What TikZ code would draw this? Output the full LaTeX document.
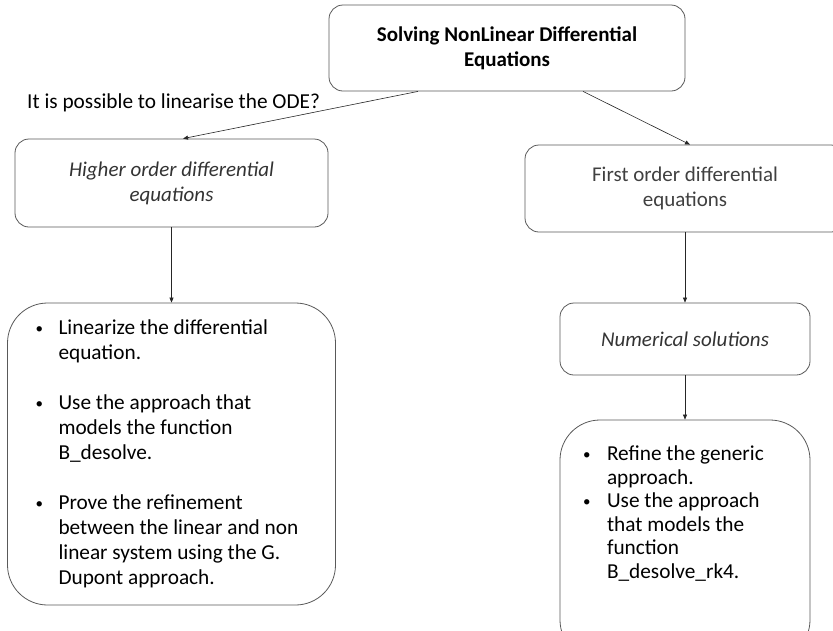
\documentclass[tikz,border=0pt]{standalone}
\usepackage{fontspec}
\setmainfont{Carlito}
\usetikzlibrary{arrows.meta,positioning}

% bullet line with hanging indent
\newcommand{\bul}[2]{\par\noindent\hangindent=#1\hangafter=1%
  \makebox[#1][l]{\raisebox{1pt}{\fontsize{15}{15}\selectfont\textbullet}}#2}

\begin{document}
\begin{tikzpicture}[x=1pt,y=-1pt]
  \tikzset{box/.style = {draw=black!65, line width=0.8pt, rounded corners=14pt, inner sep=0pt, align=center}}
  \tikzset{bigbox/.style = {box, rounded corners=40pt}}
  \tikzset{link/.style = {-{Triangle[length=5pt,width=4pt]}, draw=black!85, line width=0.6pt}}
  \useasboundingbox (0,0) rectangle (833,630);

  % boxes
  \node[box, minimum width=356pt, minimum height=86pt,
        font=\bfseries\fontsize{21}{25}\selectfont] (title) at (507,48)
        {Solving NonLinear Differential\\Equations};
  \node[box, minimum width=313pt, minimum height=88pt, text=black!80,
        font=\itshape\fontsize{21}{25}\selectfont] (higher) at (171.5,183)
        {Higher order differential\\equations};
  \node[box, minimum width=320pt, minimum height=87pt, text=black!75,
        font=\fontsize{21}{25}\selectfont] (first) at (685,188.5)
        {First order differential\\equations};
  \node[bigbox, minimum width=328pt, minimum height=302pt,
        font=\fontsize{21.3}{25}\selectfont] (linbox) at (171.5,454)
        {\parbox{272pt}{\raggedright
         \bul{23pt}{Linearize the differential\newline equation.}\par\vspace{25pt}
         \bul{23pt}{Use the approach that\newline models the function\newline B\_desolve.}\par\vspace{25pt}
         \bul{23pt}{Prove the refinement\newline between the linear and non\newline linear system using the G.\newline Dupont approach.}}};
  \node[box, minimum width=250pt, minimum height=72pt, text=black!80,
        font=\itshape\fontsize{21}{25}\selectfont] (numsol) at (685,339)
        {Numerical solutions};
  \node[bigbox, minimum width=250pt, minimum height=240pt,
        font=\fontsize{21.3}{23.5}\selectfont] (rkbox) at (685,540)
        {\parbox[c][188pt][t]{204pt}{\raggedright
         \bul{24pt}{Refine the generic\newline approach.}
         \bul{24pt}{Use the approach\newline that models the\newline function\newline B\_desolve\_rk4.}}};

  % label
  \node[anchor=west, inner sep=0pt, font=\fontsize{21.3}{25}\selectfont] (question) at (27,103)
        {It is possible to linearise the ODE?};

  % arrows
  \draw[link] ([xshift=-89pt]title.south) -- ([xshift=11.5pt]higher.north);
  \draw[link] ([xshift=76pt]title.south) -- ([xshift=5pt]first.north);
  \draw[link] (higher.south) -- (linbox.north);
  \draw[link] (first.south) -- (numsol.north);
  \draw[link] (numsol.south) -- (rkbox.north);
\end{tikzpicture}
\end{document}
